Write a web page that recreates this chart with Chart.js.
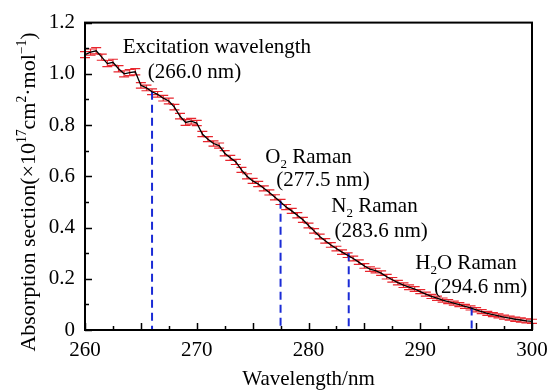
<!DOCTYPE html>
<html>
<head>
<meta charset="utf-8">
<script src="https://cdn.jsdelivr.net/npm/chart.js@4.4.0/dist/chart.umd.min.js"></script>
<style>
  html, body { margin: 0; padding: 0; background: #fff; }
</style>
</head>
<body>
<canvas id="absChart" width="560" height="392"></canvas>
<script>
// wavelength (nm) and absorption section (x1e17 cm2/mol)
const wavelength = [
  260.0, 260.5, 261.0, 261.5, 262.0, 262.5, 263.0, 263.5, 264.0, 264.5,
  265.0, 265.5, 266.0, 266.5, 267.0, 267.5, 268.0, 268.5, 269.0, 269.5,
  270.0, 270.5, 271.0, 271.5, 272.0, 272.5, 273.0, 273.5, 274.0, 274.5,
  275.0, 275.5, 276.0, 276.5, 277.0, 277.5, 278.0, 278.5, 279.0, 279.5,
  280.0, 280.5, 281.0, 281.5, 282.0, 282.5, 283.0, 283.5, 284.0, 284.5,
  285.0, 285.5, 286.0, 286.5, 287.0, 287.5, 288.0, 288.5, 289.0, 289.5,
  290.0, 290.5, 291.0, 291.5, 292.0, 292.5, 293.0, 293.5, 294.0, 294.5,
  295.0, 295.5, 296.0, 296.5, 297.0, 297.5, 298.0, 298.5, 299.0, 299.5,
  300.0
];
const absorption = [
  1.075, 1.085, 1.090, 1.065, 1.040, 1.045, 1.020, 1.000, 1.005, 1.008,
  0.955, 0.945, 0.930, 0.920, 0.905, 0.894, 0.870, 0.835, 0.810, 0.815,
  0.808, 0.765, 0.745, 0.728, 0.720, 0.690, 0.672, 0.656, 0.625, 0.600,
  0.582, 0.570, 0.553, 0.537, 0.518, 0.500, 0.480, 0.465, 0.448, 0.430,
  0.408, 0.387, 0.365, 0.348, 0.332, 0.318, 0.304, 0.292, 0.279, 0.265,
  0.250, 0.238, 0.232, 0.222, 0.208, 0.196, 0.185, 0.175, 0.167, 0.160,
  0.150, 0.140, 0.131, 0.124, 0.117, 0.111, 0.105, 0.099, 0.092, 0.086,
  0.079, 0.072, 0.065, 0.060, 0.055, 0.050, 0.046, 0.042, 0.039, 0.036,
  0.034
];
const errBar = [
  0.012, 0.012, 0.012, 0.012, 0.012, 0.012, 0.012, 0.012, 0.012, 0.012,
  0.011, 0.011, 0.011, 0.011, 0.011, 0.011, 0.011, 0.011, 0.011, 0.011,
  0.010, 0.010, 0.010, 0.010, 0.010, 0.010, 0.010, 0.010, 0.010, 0.010,
  0.010, 0.010, 0.010, 0.010, 0.010, 0.010, 0.010, 0.010, 0.010, 0.010,
  0.009, 0.009, 0.009, 0.009, 0.009, 0.009, 0.009, 0.009, 0.009, 0.009,
  0.009, 0.009, 0.009, 0.009, 0.009, 0.009, 0.009, 0.009, 0.009, 0.009,
  0.008, 0.008, 0.008, 0.008, 0.008, 0.008, 0.008, 0.008, 0.008, 0.008,
  0.008, 0.008, 0.008, 0.008, 0.008, 0.008, 0.008, 0.008, 0.008, 0.008,
  0.008
];

// Raman / excitation marker lines
const ramanX = [266.0, 277.5, 283.6, 294.6];
const ramanTop = [0.93, 0.505, 0.30, 0.088];

const SERIF = "'Liberation Serif', 'Times New Roman', serif";

// text made of pieces, so that sub/superscripts can be drawn
function richWidth(ctx, parts, size) {
  let w = 0;
  parts.forEach(p => {
    ctx.font = (p.s ? size * 0.62 : size) + 'px ' + SERIF;
    w += ctx.measureText(p.t).width;
  });
  return w;
}
function drawRich(ctx, parts, x, y, size) {
  let cx = x - richWidth(ctx, parts, size) / 2;
  ctx.textAlign = 'left';
  ctx.textBaseline = 'middle';
  parts.forEach(p => {
    ctx.font = (p.s ? size * 0.62 : size) + 'px ' + SERIF;
    let dy = 0;
    if (p.s === 'sub') dy = size * 0.32;
    if (p.s === 'sup') dy = -size * 0.3;
    ctx.fillText(p.t, cx, y + dy);
    cx += ctx.measureText(p.t).width;
  });
}

const annotations = [
  { x: 271.8, y: 1.104, parts: [{ t: 'Excitation wavelength' }] },
  { x: 269.8, y: 1.004, parts: [{ t: '(266.0 nm)' }] },
  { x: 280.0, y: 0.673, parts: [{ t: 'O' }, { t: '2', s: 'sub' }, { t: ' Raman' }] },
  { x: 281.3, y: 0.585, parts: [{ t: '(277.5 nm)' }] },
  { x: 285.9, y: 0.481, parts: [{ t: 'N' }, { t: '2', s: 'sub' }, { t: ' Raman' }] },
  { x: 286.5, y: 0.385, parts: [{ t: '(283.6 nm)' }] },
  { x: 294.1, y: 0.258, parts: [{ t: 'H' }, { t: '2', s: 'sub' }, { t: 'O Raman' }] },
  { x: 295.4, y: 0.165, parts: [{ t: '(294.6 nm)' }] }
];

const extras = {
  id: 'extras',
  beforeDatasetsDraw(chart) {
    // red error bars under the curve
    const ctx = chart.ctx, xs = chart.scales.x, ys = chart.scales.y;
    ctx.save();
    ctx.strokeStyle = '#e8262e';
    ctx.lineWidth = 1.2;
    wavelength.forEach((w, i) => {
      const px = xs.getPixelForValue(w);
      const y1 = ys.getPixelForValue(absorption[i] + errBar[i]);
      const y2 = ys.getPixelForValue(absorption[i] - errBar[i]);
      ctx.beginPath();
      ctx.moveTo(px, y1); ctx.lineTo(px, y2);
      ctx.moveTo(px - 5, y1); ctx.lineTo(px + 5, y1);
      ctx.moveTo(px - 5, y2); ctx.lineTo(px + 5, y2);
      ctx.stroke();
    });
    ctx.restore();
  },
  afterDraw(chart) {
    const ctx = chart.ctx, xs = chart.scales.x, ys = chart.scales.y;
    const a = chart.chartArea;
    ctx.save();
    ctx.strokeStyle = '#000';
    ctx.lineWidth = 2;
    ctx.strokeRect(a.left, a.top, a.right - a.left, a.bottom - a.top);
    // inward tick marks
    ctx.lineWidth = 1.5;
    ctx.beginPath();
    for (let v = 260; v <= 300; v += 2.5) {
      const px = Math.round(xs.getPixelForValue(v)) + 0.5;
      const len = v % 5 === 0 ? 7 : 4;
      ctx.moveTo(px, a.bottom); ctx.lineTo(px, a.bottom - len);
    }
    for (let k = 0; k <= 12; k++) {
      const py = Math.round(ys.getPixelForValue(k / 10)) + 0.5;
      const len = k % 2 === 0 ? 7 : 4;
      ctx.moveTo(a.left, py); ctx.lineTo(a.left + len, py);
    }
    ctx.stroke();
    // labels
    ctx.fillStyle = '#000';
    annotations.forEach(an => {
      drawRich(ctx, an.parts, xs.getPixelForValue(an.x), ys.getPixelForValue(an.y), 21);
    });
    // y axis title
    ctx.translate(29, 192);
    ctx.rotate(-Math.PI / 2);
    drawRich(ctx, [
      { t: 'Absorption section(\u00d710' }, { t: '17', s: 'sup' },
      { t: 'cm' }, { t: '2', s: 'sup' }, { t: '\u00b7mol' }, { t: '\u22121', s: 'sup' },
      { t: ')' }
    ], 0, 0, 22);
    ctx.restore();
  }
};

const datasets = [{
  label: 'absorption',
  data: wavelength.map((w, i) => ({ x: w, y: absorption[i] })),
  borderColor: '#000',
  borderWidth: 1.3,
  pointRadius: 0,
  tension: 0,
  order: 0
}];
ramanX.forEach((w, i) => {
  datasets.push({
    label: 'marker' + i,
    data: [{ x: w, y: ramanTop[i] }, { x: w, y: 0 }],
    borderColor: '#1a2bd6',
    borderWidth: 2,
    borderDash: [8, 5],
    pointRadius: 0,
    order: 1
  });
});

new Chart(document.getElementById('absChart'), {
  type: 'line',
  data: { datasets: datasets },
  options: {
    responsive: false,
    animation: false,
    devicePixelRatio: 1,
    layout: { padding: { top: 18, right: 28, left: 0, bottom: 0 } },
    plugins: { legend: { display: false }, tooltip: { enabled: false } },
    scales: {
      x: {
        type: 'linear',
        min: 260, max: 300,
        grid: { display: false, drawTicks: false },
        border: { display: false },
        ticks: { stepSize: 10, padding: 8, color: '#000', font: { family: SERIF, size: 21 } },
        title: { display: true, text: 'Wavelength/nm', color: '#000', padding: { top: 0, bottom: 0 }, font: { family: SERIF, size: 21 } },
        afterFit(scale) { scale.height = 62; }
      },
      y: {
        min: 0, max: 1.2,
        grid: { display: false, drawTicks: false },
        border: { display: false },
        ticks: {
          stepSize: 0.2, padding: 10, color: '#000', font: { family: SERIF, size: 21 },
          callback: v => v === 0 ? '0' : v.toFixed(1)
        },
        afterFit(scale) { scale.width = 85; }
      }
    }
  },
  plugins: [extras]
});
</script>
</body>
</html>
